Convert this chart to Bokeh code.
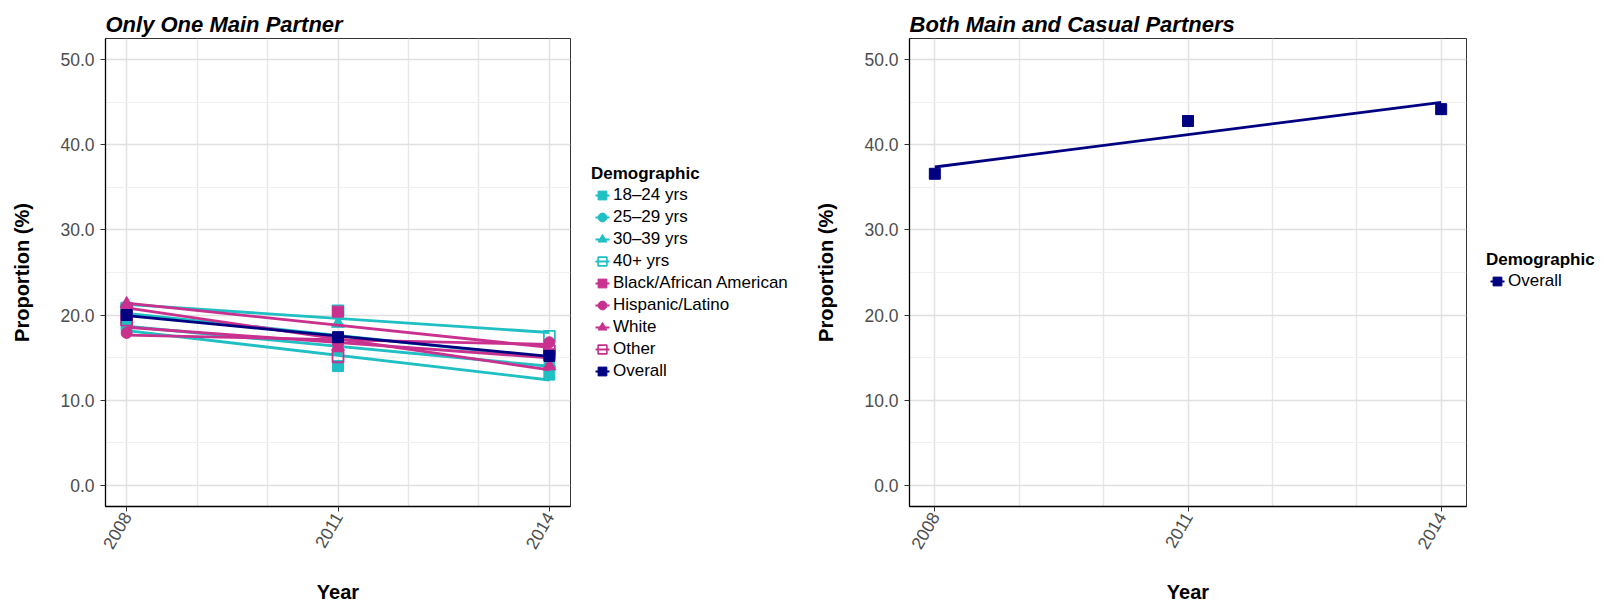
import numpy as np
from math import pi
from bokeh.plotting import figure
from bokeh.layouts import row
from bokeh.models import (ColumnDataSource, Legend, LegendItem, FixedTicker,
                          NumeralTickFormatter, Range1d)
from bokeh.embed import file_html
from bokeh.resources import INLINE

# ---------------- data ----------------
years = [2008, 2011, 2014]
x_ticks = [2008, 2011, 2014]
x_minor = [2009, 2010, 2012, 2013]
y_ticks = [0, 10, 20, 30, 40, 50]
y_minor = [5, 15, 25, 35, 45]

groups = ["18–24 yrs", "25–29 yrs", "30–39 yrs", "40+ yrs",
          "Black/African American", "Hispanic/Latino", "White", "Other", "Overall"]

v_18_24 = [18.8, 14.0, 13.0]
v_25_29 = [18.9, 15.9, 14.2]
v_30_39 = [19.5, 19.0, 14.3]
v_40plus = [20.8, 20.5, 17.5]
v_black = [20.6, 20.4, 15.4]
v_hispanic = [17.9, 16.6, 16.8]
v_white = [21.3, 16.3, 14.0]
v_other = [19.4, 15.1, 15.8]
v_overall = [20.0, 17.4, 15.2]

both_groups = ["Overall"]
v_both_overall = [36.6, 42.8, 44.2]

left_values = [v_18_24, v_25_29, v_30_39, v_40plus, v_black, v_hispanic,
               v_white, v_other, v_overall]
right_values = [v_both_overall]

# ---------------- styles ----------------
CYAN = "#1FBFC4"
MAGENTA = "#C9318F"
NAVY = "#000080"
styles = {
    "18–24 yrs": (CYAN, "square", True),
    "25–29 yrs": (CYAN, "circle", True),
    "30–39 yrs": (CYAN, "triangle", True),
    "40+ yrs": (CYAN, "square", False),
    "Black/African American": (MAGENTA, "square", True),
    "Hispanic/Latino": (MAGENTA, "circle", True),
    "White": (MAGENTA, "triangle", True),
    "Other": (MAGENTA, "square", False),
    "Overall": (NAVY, "square", True),
}
marker_size = {"square": 11, "circle": 11, "triangle": 13}
FONT = "Liberation Sans"
FIG_H = 611


def make_fig(title, width, border_left, border_right):
    p = figure(width=width, height=FIG_H,
               x_range=Range1d(2007.7, 2014.3), y_range=Range1d(-2.5, 52.5),
               output_backend="svg", toolbar_location=None,
               min_border_left=border_left, min_border_right=border_right,
               min_border_top=38, min_border_bottom=105, title=title)
    p.background_fill_color = "white"
    p.border_fill_color = "white"
    p.outline_line_color = "#333333"
    p.outline_line_width = 1
    p.title.text_font = FONT
    p.title.text_font_size = "22px"
    p.title.text_font_style = "bold italic"
    p.title.text_color = "black"
    p.title.align = "left"
    p.title.standoff = 4

    p.xaxis.ticker = FixedTicker(ticks=x_ticks, minor_ticks=x_minor)
    p.yaxis.ticker = FixedTicker(ticks=y_ticks, minor_ticks=y_minor)
    p.yaxis.formatter = NumeralTickFormatter(format="0.0")
    p.xaxis.major_label_orientation = pi / 3

    for ax in (p.xaxis, p.yaxis):
        ax.axis_line_color = "black"
        ax.axis_line_width = 1.3
        ax.major_tick_line_color = "#333333"
        ax.major_tick_out = 5
        ax.major_tick_in = 0
        ax.minor_tick_line_color = None
        ax.major_label_text_font = FONT
        ax.major_label_text_font_size = "17.5px"
        ax.major_label_text_color = "#4D4D4D"
        ax.axis_label_text_font = FONT
        ax.axis_label_text_font_size = "20px"
        ax.axis_label_text_font_style = "bold"
        ax.axis_label_text_color = "black"
    p.yaxis.major_label_standoff = 6
    p.xaxis.major_label_standoff = 2
    p.yaxis.axis_label = "Proportion (%)"
    p.xaxis.axis_label = "Year"
    p.yaxis.axis_label_standoff = 24
    p.xaxis.axis_label_standoff = 24

    p.xgrid.grid_line_color = "#E2E2E2"
    p.xgrid.grid_line_width = 1.5
    p.xgrid.minor_grid_line_color = "#E8E8E8"
    p.xgrid.minor_grid_line_width = 1.5
    p.ygrid.grid_line_color = "#E0E0E0"
    p.ygrid.grid_line_width = 1.5
    p.ygrid.minor_grid_line_color = "#F0F0F0"
    p.ygrid.minor_grid_line_width = 1.2
    return p


def add_series(p, name, vals):
    color, marker, filled = styles[name]
    slope, intercept = np.polyfit(years, vals, 1)
    fx = [years[0], years[-1]]
    fy = [intercept + slope * x for x in fx]
    p.line(x=fx, y=fy, line_color=color, line_width=2.8)
    src = ColumnDataSource(dict(x=years, y=vals))
    p.scatter("x", "y", source=src, marker=marker,
              size=marker_size[marker],
              fill_color=color if filled else None,
              line_color=color, line_width=1.8 if not filled else 1)


def legend_fig(width, names, values, loc):
    # legend-only panel: its renderers carry the series data but its ranges
    # keep them out of view, so only the legend entries are drawn.
    lf = figure(width=width, height=FIG_H, x_range=Range1d(0, 1),
                y_range=Range1d(0, 1), x_axis_type=None, y_axis_type=None,
                output_backend="svg", toolbar_location=None, min_border=0)
    lf.outline_line_color = None
    lf.background_fill_color = "white"
    lf.border_fill_color = "white"
    items = []
    for name, vals in zip(names, values):
        color, marker, filled = styles[name]
        src = ColumnDataSource(dict(x=years, y=vals))
        ln = lf.line("x", "y", source=src, line_color=color, line_width=2.2,
                     line_dash="0 4 14 30")
        sc = lf.scatter("x", "y", source=src, marker=marker, size=10,
                        fill_color=color if filled else None,
                        line_color=color, line_width=1.6 if not filled else 1)
        items.append(LegendItem(label=name, renderers=[ln, sc]))
    lg = Legend(items=items, title="Demographic", location=loc,
                border_line_color=None, background_fill_alpha=0,
                glyph_width=22, glyph_height=22, spacing=0,
                label_standoff=-5, margin=0, padding=4,
                label_text_font=FONT, label_text_font_size="17px",
                label_text_color="black",
                title_text_font=FONT, title_text_font_size="17px",
                title_text_font_style="bold", title_text_color="black",
                title_standoff=-1)
    lf.add_layout(lg)
    return lf


# ---------------- left panel ----------------
p1 = make_fig("Only One Main Partner", 575, 105, 5)
for g, v in zip(groups, left_values):
    add_series(p1, g, v)
leg1 = legend_fig(237, groups, left_values, (16, 124))

# ---------------- right panel ----------------
p2 = make_fig("Both Main and Casual Partners", 659, 97, 5)
for g, v in zip(both_groups, right_values):
    add_series(p2, g, v)
leg2 = legend_fig(133, both_groups, right_values, (15, 214))

layout = row(p1, leg1, p2, leg2)
open("out.html", "w").write(file_html(layout, INLINE))
